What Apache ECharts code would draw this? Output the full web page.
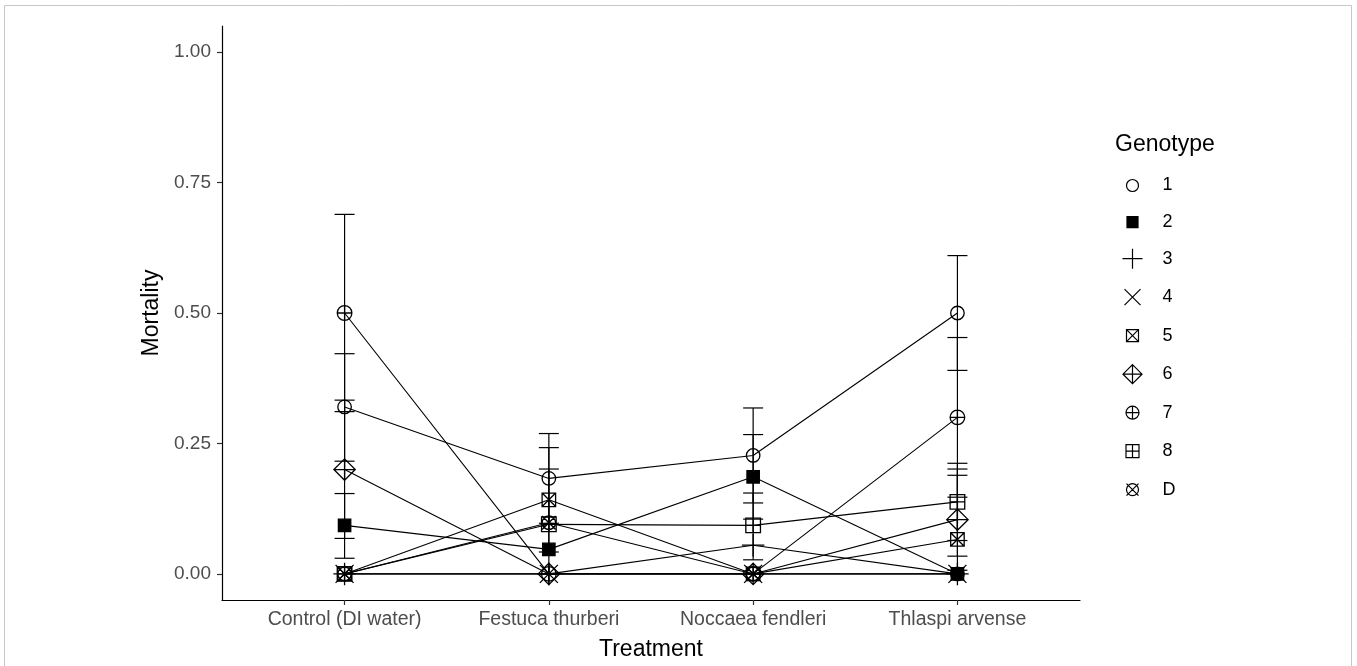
<!DOCTYPE html>
<html>
<head>
<meta charset="utf-8">
<script src="https://cdn.jsdelivr.net/npm/echarts@6/dist/echarts.min.js"></script>
<style>
  html, body { margin: 0; padding: 0; background: #fff; }
  #chart { width: 1357px; height: 666px; }
</style>
</head>
<body>
<div id="chart"></div>
<script>
// ---- data ----
const categories = ['Control (DI water)', 'Festuca thurberi', 'Noccaea fendleri', 'Thlaspi arvense'];
const genotypes = ['1', '2', '3', '4', '5', '6', '7', '8', 'D'];
const yTicks = [0, 0.25, 0.5, 0.75, 1];

const g1 = [0.32, 0.183, 0.227, 0.50];
const g2 = [0.093, 0.047, 0.186, 0.0];
const g3 = [0.0, 0.0, 0.055, 0.0];
const g4 = [0.0, 0.0, 0.0, 0.0];
const g5 = [0.0, 0.142, 0.0, 0.066];
const g6 = [0.20, 0.0, 0.0, 0.104];
const g7 = [0.50, 0.0, 0.0, 0.30];
const g8 = [0.0, 0.095, 0.093, 0.138];
const gD = [0.0, 0.098, 0.0, 0.0];

const g1Low  = [0.216, 0.097, 0.136, 0.39];
const g1High = [0.422, 0.269, 0.318, 0.61];
const g2Low  = [0.030, null, 0.105, null];
const g2High = [0.154, null, 0.267, null];
const g5Low  = [null, 0.042, null, 0.034];
const g5High = [null, 0.242, null, 0.189];
const g6Low  = [0.068, null, null, 0.007];
const g6High = [0.333, null, null, 0.201];
const g7Low  = [0.311, null, null, 0.147];
const g7High = [0.689, null, null, 0.453];
const g8Low  = [null, 0.0, 0.027, 0.064];
const g8High = [null, 0.201, 0.155, 0.212];

// ---- symbols (24x24 frame) ----
const F = 'M0,0M24,24';
const circ = (r) => `M${12 - r},12A${r},${r},0,1,1,${12 + r},12A${r},${r},0,1,1,${12 - r},12Z`;
const sym = {
  '1': 'path://' + F + circ(6),
  '2': 'path://' + F + 'M6.5,6.5L17.5,6.5L17.5,17.5L6.5,17.5Z',
  '3': 'path://' + F + 'M2,12L22,12M12,2L12,22',
  '4': 'path://' + F + 'M4,4L20,20M20,4L4,20',
  '5': 'path://' + F + 'M6,6L18,6L18,18L6,18ZM6,6L18,18M18,6L6,18',
  '6': 'path://' + F + 'M12,2.5L21.5,12L12,21.5L2.5,12ZM2.5,12L21.5,12M12,2.5L12,21.5',
  '7': 'path://' + F + circ(6.5) + 'M5.5,12L18.5,12M12,5.5L12,18.5',
  '8': 'path://' + F + 'M5.5,5.5L18.5,5.5L18.5,18.5L5.5,18.5ZM5.5,12L18.5,12M12,5.5L12,18.5',
  'D': 'path://' + F + circ(6) + 'M6,6L18,18M18,6L6,18'
};
const fills = { '2': '#000' };

const values = { '1': g1, '2': g2, '3': g3, '4': g4, '5': g5, '6': g6, '7': g7, '8': g8, 'D': gD };
const lows = { '1': g1Low, '2': g2Low, '5': g5Low, '6': g6Low, '7': g7Low, '8': g8Low };
const highs = { '1': g1High, '2': g2High, '5': g5High, '6': g6High, '7': g7High, '8': g8High };

const errData = [];
Object.keys(lows).forEach(g => {
  lows[g].forEach((lo, i) => {
    if (lo !== null && highs[g][i] !== null) errData.push([i + 1, lo, highs[g][i]]);
  });
});

const font = 'Liberation Sans, Arial, Helvetica, sans-serif';

const series = [{
  name: 'errorbars',
  type: 'custom',
  silent: true,
  z: 2,
  data: errData,
  renderItem: function (params, api) {
    const x = api.value(0), lo = api.value(1), hi = api.value(2);
    const p1 = api.coord([x, lo]);
    const p2 = api.coord([x, hi]);
    const w = 10;
    const st = { stroke: '#000', lineWidth: 1.2 };
    return {
      type: 'group',
      children: [
        { type: 'line', shape: { x1: p1[0], y1: p1[1], x2: p2[0], y2: p2[1] }, style: st },
        { type: 'line', shape: { x1: p1[0] - w, y1: p1[1], x2: p1[0] + w, y2: p1[1] }, style: st },
        { type: 'line', shape: { x1: p2[0] - w, y1: p2[1], x2: p2[0] + w, y2: p2[1] }, style: st }
      ]
    };
  }
}];

genotypes.forEach(g => {
  series.push({
    name: g,
    type: 'line',
    z: 3,
    silent: true,
    emphasis: { disabled: true },
    data: values[g].map((v, i) => [i + 1, v]),
    symbol: sym[g],
    symbolSize: 27,
    showAllSymbol: true,
    itemStyle: { color: fills[g] || 'none', borderColor: '#000', borderWidth: 1.3 },
    lineStyle: { color: '#000', width: 1.1 }
  });
});

const chart = echarts.init(document.getElementById('chart'), null, { renderer: 'canvas' });
chart.setOption({
  animation: false,
  backgroundColor: '#fff',
  title: {
    text: 'Genotype',
    left: 1115,
    top: 133,
    padding: 0,
    textStyle: { fontFamily: font, fontSize: 23, fontWeight: 'normal', color: '#000' }
  },
  graphic: [{
    type: 'rect',
    silent: true,
    shape: { x: 4.5, y: 5.5, width: 1347, height: 680 },
    style: { fill: 'none', stroke: '#c8c8c8', lineWidth: 1 }
  }],
  legend: {
    orient: 'vertical',
    left: 1113,
    top: 166,
    itemWidth: 50,
    itemHeight: 24,
    itemGap: 9.5,
    selectedMode: false,
    symbolKeepAspect: true,
    textStyle: { fontFamily: font, fontSize: 18, color: '#000' },
    data: genotypes.map(g => ({
      name: g,
      icon: sym[g],
      itemStyle: { color: fills[g] || 'none', borderColor: '#000', borderWidth: 1.2 }
    }))
  },
  grid: { left: 222, right: 277, top: 26, bottom: 59, containLabel: false },
  xAxis: {
    type: 'value',
    min: 0.4,
    max: 4.6,
    name: 'Treatment',
    nameLocation: 'middle',
    nameGap: 38,
    nameTextStyle: { fontFamily: font, fontSize: 23, color: '#000' },
    axisLine: { show: true, onZero: false, lineStyle: { color: '#000', width: 1.2 } },
    axisTick: { show: true, length: 5, lineStyle: { color: '#333', width: 1.2 }, customValues: [1, 2, 3, 4] },
    axisLabel: {
      customValues: [1, 2, 3, 4],
      margin: 10,
      fontFamily: font,
      fontSize: 19.5,
      color: '#4d4d4d',
      formatter: v => categories[Math.round(v) - 1] || ''
    },
    splitLine: { show: false }
  },
  yAxis: {
    type: 'value',
    min: -0.05,
    max: 1.05,
    name: 'Mortality',
    nameLocation: 'middle',
    nameGap: 55,
    nameTextStyle: { fontFamily: font, fontSize: 23, color: '#000' },
    axisLine: { show: true, onZero: false, lineStyle: { color: '#000', width: 1.2 } },
    axisTick: { show: true, length: 5, lineStyle: { color: '#333', width: 1.2 }, customValues: yTicks },
    axisLabel: {
      customValues: yTicks,
      margin: 11,
      fontFamily: font,
      fontSize: 19,
      color: '#4d4d4d',
      formatter: v => v.toFixed(2)
    },
    splitLine: { show: false }
  },
  series: series
});
</script>
</body>
</html>
